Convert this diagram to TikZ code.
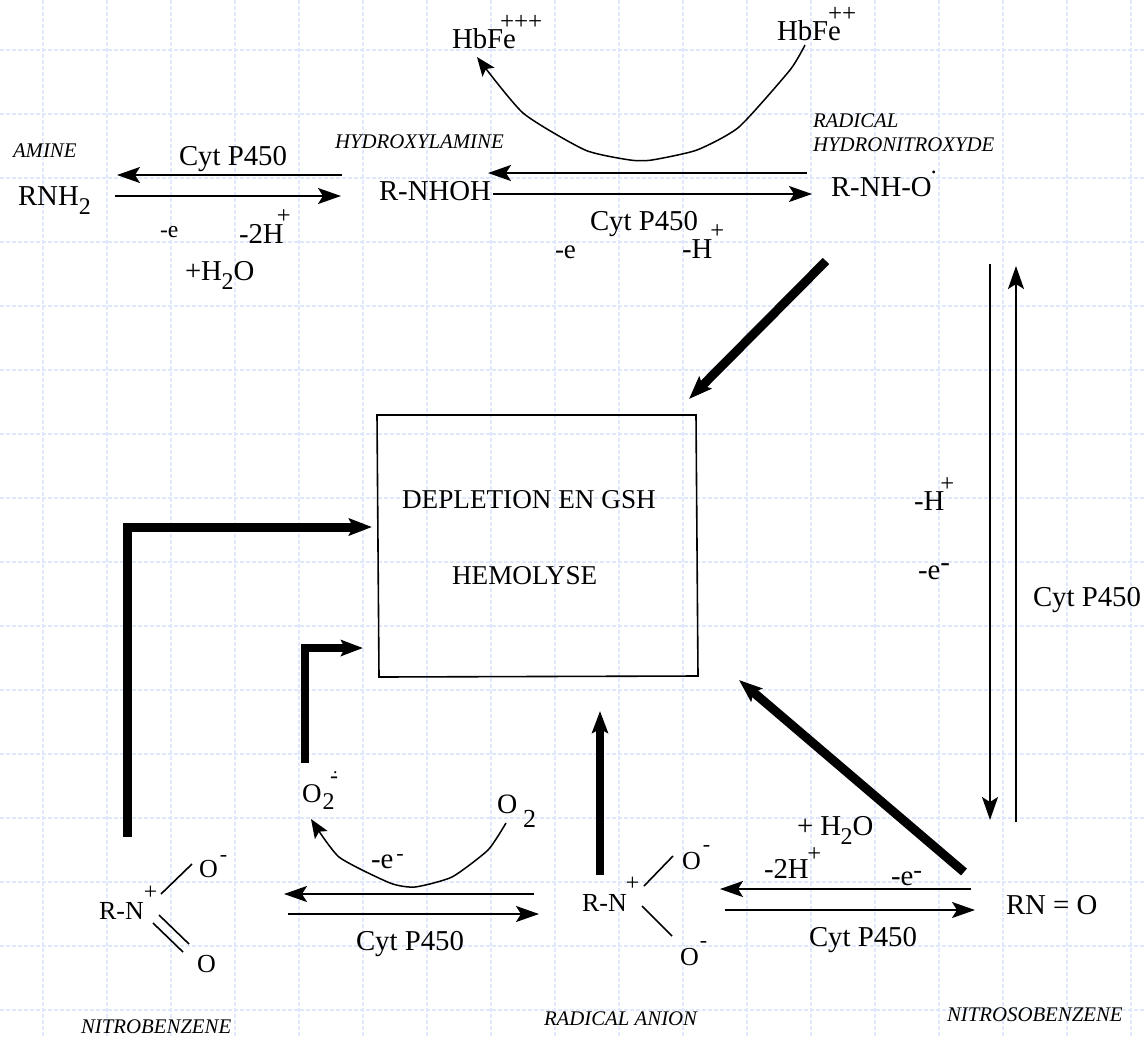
\documentclass[tikz,border=0pt]{standalone}
\usepackage{fontspec}
\setmainfont{Liberation Serif}
\usetikzlibrary{arrows.meta}
\newcommand{\fs}[1]{\fontsize{#1}{#1}\selectfont}
\newcommand{\upp}[4]{\kern#1pt\raisebox{#2pt}{\fs{#3}#4}}
\definecolor{gridblue}{HTML}{E0E8FD}
\tikzset{
  gridline/.style={draw=gridblue,line width=1.5pt,dash pattern=on 4pt off 2pt},
  txt/.style={anchor=base west,inner sep=0pt,outer sep=0pt,font=\fs{28.8}},
  medtxt/.style={txt,font=\fs{26}},
  smalltxt/.style={txt,font=\fs{23.6}},
  compname/.style={txt,font=\fs{20.8}\itshape},
  arrowthin/.style={draw=black,line width=1.9pt,-{Stealth[length=23pt,width=16pt,inset=5pt]}},
  arrowcurve/.style={draw=black,line width=1.5pt,-{Stealth[length=19pt,width=15pt,inset=4pt]}},
  plainline/.style={draw=black,line width=1.6pt},
  arrowheavy/.style={draw=black,line width=9pt,-{Stealth[length=23pt,width=17pt,inset=4pt]},miter limit=10},
  arrowheavier/.style={draw=black,line width=8pt,-{Stealth[length=22pt,width=16pt,inset=4pt]}},
}
\begin{document}
\begin{tikzpicture}[x=1pt,y=-1pt]
\useasboundingbox (0,0) rectangle (1146,1037);
\fill[white] (0,0) rectangle (1146,1037);
\foreach \k in {0,...,17} {\draw[gridline] ({43+64*\k},0) -- ({43+64*\k},1037);}
\foreach \k in {0,...,15} {\draw[gridline] (0,{50+64*\k}) -- (1146,{50+64*\k});}

% top row
\node[compname] (amine) at (13,157) {AMINE};
\node[txt] (rnh2) at (18,205) {RNH\upp{0}{-9}{24}{2}};
\node[txt] (cyt1) at (179,165) {Cyt P450};
\node[smalltxt] (e1) at (160,237) {-e};
\node[txt] (h1) at (239,243) {-2H\upp{-7}{20}{24.5}{+}};
\node[txt] (w1) at (185,280) {+H\upp{-0.5}{-9}{24}{2}O};
\node[compname] (hya) at (335,148) {HYDROXYLAMINE};
\node[txt] (nhoh) at (379,200) {R-NHOH};
\node[txt] (hb3) at (452,48) {HbFe\upp{-16}{19}{25}{+++}};
\node[txt] (hb2) at (777,40) {HbFe\upp{-13}{19}{25}{++}};
\node[compname] (rad) at (813,127) {RADICAL};
\node[compname] (hyd) at (813,151) {HYDRONITROXYDE};
\node[txt] (nho) at (831,196) {R-NH-O\upp{-1}{23}{23.6}{.}};
\node[txt] (cyt2) at (590,230) {Cyt P450};
\node[txt,font=\fs{27}] (e2) at (555,258) {-e};
\node[txt] (h2) at (682,258) {-H\upp{-2}{20}{24.5}{+}};

% centre box
\node[txt,font=\fs{27.2}] (depl) at (402,508) {DEPLETION EN GSH};
\node[txt,font=\fs{27.2}] (hemo) at (452,584) {HEMOLYSE};
\coordinate (bA) at (377,415);
\coordinate (bB) at (696,415);
\coordinate (bC) at (698,676);
\coordinate (bD) at (379,677);
\draw[plainline,line join=miter] (bA) -- (bB) -- (bC) -- (bD) -- cycle;

% right side
\node[txt] (h3) at (914,510) {-H\upp{-4}{19}{24.5}{+}};
\node[txt] (e3) at (918,579) {-e\upp{0}{8}{28.8}{-}};
\node[txt] (cyt3) at (1033,606) {Cyt P450};

% bottom row
\node[txt,font=\fs{27}] (o2r) at (302,802) {O\upp{1}{-7}{24}{2}};
\node[smalltxt,font=\fs{24}] (o2rm) at (330,783) {-};
\node[smalltxt,font=\fs{18}] (o2rd) at (333,773) {.};
\node[txt,font=\fs{28}] (o2) at (497,813) {O\upp{6}{-14}{26}{2}};
\node[txt] (e4) at (371,868) {-e\upp{3}{7.5}{22}{-}};
\node[txt] (cyt4) at (356,950) {Cyt P450};
\node[medtxt] (rn1) at (99,919) {R-N\upp{0}{20}{23.6}{+}};
\node[medtxt] (o1a) at (199,877) {O\upp{2}{16}{22}{-}};
\node[medtxt] (o1b) at (197,972) {O};
\node[compname] (nb) at (81,1033) {NITROBENZENE};
\node[medtxt] (rn2) at (582,911) {R-N\upp{-1}{21}{23.6}{+}};
\node[medtxt] (o2a) at (682,869) {O\upp{2}{17.5}{22}{-}};
\node[medtxt] (o2b) at (680,965) {O\upp{1}{17.5}{22}{-}};
\node[compname] (ra) at (544,1025) {RADICAL ANION};
\node[txt] (w2) at (797,835) {+ H\upp{-0.5}{-9}{24}{2}O};
\node[txt] (h4) at (764,878) {-2H\upp{-1.5}{17}{24.5}{+}};
\node[txt] (e5) at (891,885) {-e\upp{0}{7}{26}{-}};
\node[txt] (rno) at (1006,914) {RN = O};
\node[txt] (cyt5) at (809,946) {Cyt P450};
\node[compname] (nsb) at (947,1021) {NITROSOBENZENE};

% thin connectors
\coordinate (a1s) at (342,175); \coordinate (a1e) at (117,175);
\coordinate (a2s) at (115,196); \coordinate (a2e) at (341,196);
\coordinate (a3s) at (807,173); \coordinate (a3e) at (488,173);
\coordinate (a4s) at (493,194); \coordinate (a4e) at (812,194);
\coordinate (a5s) at (990,264); \coordinate (a5e) at (990,820);
\coordinate (a6s) at (1016,822); \coordinate (a6e) at (1016,266);
\coordinate (a7s) at (534,894); \coordinate (a7e) at (284,894);
\coordinate (a8s) at (288,914); \coordinate (a8e) at (539,914);
\coordinate (a9s) at (971,889); \coordinate (a9e) at (720,889);
\coordinate (a10s) at (725,910); \coordinate (a10e) at (975,910);
\foreach \n in {1,...,10} {\draw[arrowthin] (a\n s) -- (a\n e);}

% curved connectors
\coordinate (c1s) at (805,45); \coordinate (c1e) at (477,57);
\draw[arrowcurve] plot[smooth,tension=0.35] coordinates {(c1s) (790,70) (739,127) (697,150) (652,160) (630,160) (585,150) (523,113) (c1e)};
\coordinate (c2s) at (506,823); \coordinate (c2e) at (311,819);
\draw[arrowcurve] plot[smooth,tension=0.35] coordinates {(c2s) (488,850) (452,877) (415,887) (390,883) (339,857) (c2e)};

% heavy connectors
\coordinate (t1s) at (826,261); \coordinate (t1e) at (689,399);
\draw[arrowheavy] (t1s) -- (t1e);
\coordinate (t2s) at (127,837); \coordinate (t2c) at (127,527); \coordinate (t2e) at (372,527);
\draw[arrowheavy,line join=miter] (t2s) -- (t2c) -- (t2e);
\coordinate (t3s) at (305,763); \coordinate (t3c) at (305,648); \coordinate (t3e) at (363,648);
\draw[arrowheavier,line join=miter] (t3s) -- (t3c) -- (t3e);
\coordinate (t4s) at (600,875); \coordinate (t4e) at (600,711);
\draw[arrowheavier] (t4s) -- (t4e);
\coordinate (t5s) at (964,872); \coordinate (t5e) at (739,680);
\draw[arrowheavy] (t5s) -- (t5e);

% bonds
\coordinate (b1s) at (161,894); \coordinate (b1e) at (192,864);
\coordinate (b2s) at (159,915); \coordinate (b2e) at (189,944);
\coordinate (b3s) at (153,923); \coordinate (b3e) at (183,952);
\coordinate (b4s) at (644,886); \coordinate (b4e) at (673,856);
\coordinate (b5s) at (642,906); \coordinate (b5e) at (672,936);
\foreach \n in {1,...,5} {\draw[plainline] (b\n s) -- (b\n e);}
\end{tikzpicture}
\end{document}
